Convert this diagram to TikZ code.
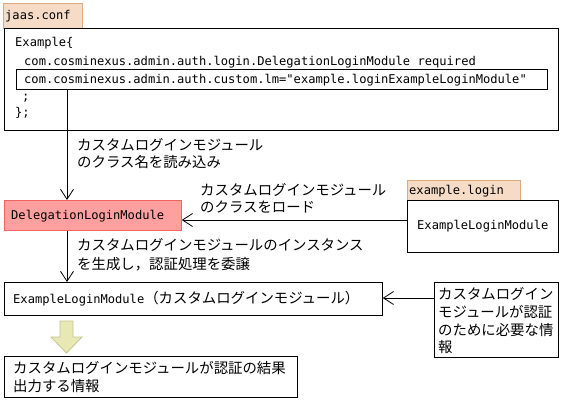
\documentclass[tikz,border=0pt]{standalone}
\usepackage{fontspec}
\setmainfont{DejaVu Sans Mono}
\newfontfamily\jp{Noto Sans CJK JP}
\newfontfamily\lat{DejaVu Sans Mono}
\usetikzlibrary{arrows.meta}
\definecolor{tabfill}{HTML}{F6DCC6}
\definecolor{tabline}{HTML}{DDAA80}
\definecolor{delfill}{HTML}{FFA0A0}
\definecolor{delline}{HTML}{F06464}
\definecolor{yfill}{HTML}{E8E8B4}
\definecolor{yline}{HTML}{C4C48C}
\newcommand{\J}[1]{{\jp\fontsize{14.4}{18}\selectfont #1}}
\newcommand{\Lt}[1]{{\lat\fontsize{12.1}{18}\selectfont #1}}
\tikzset{
  box/.style={draw=black, line width=0.8pt, inner sep=0pt, anchor=north west, fill=white},
  tabbox/.style={draw=tabline, fill=tabfill, line width=0.8pt, inner sep=0pt, anchor=north west},
  delbox/.style={draw=delline, fill=delfill, line width=0.8pt, inner sep=0pt, anchor=north west},
  txt/.style={anchor=base west, inner sep=0pt},
  arr/.style={line width=0.8pt, -{Straight Barb[length=10pt, width=13pt, line width=0.8pt]}},
  conn/.style={line width=0.8pt}
}
\begin{document}
\begin{tikzpicture}[x=1pt,y=-1pt]
\useasboundingbox (0,0) rectangle (562,401);
% jaas.conf
\node[tabbox, minimum width=79pt, minimum height=25pt] (jtab) at (3,3) {};
\node[txt] (jtabt) at (5,20) {\Lt{jaas.conf}};
\node[box, minimum width=554pt, minimum height=102pt] (main) at (4,28) {};
\node[txt] (l1) at (15,47) {\Lt{Example\{}};
\node[txt] (l2) at (24,66) {\Lt{com.cosminexus.admin.auth.login.DelegationLoginModule required}};
\node[box, minimum width=531pt, minimum height=20pt] (inner) at (16,69) {};
\node[txt] (l3) at (24,84) {\Lt{com.cosminexus.admin.auth.custom.lm="example.loginExampleLoginModule"}};
\node[txt] (l4) at (22,101) {\Lt{;}};
\node[txt] (l5) at (15,117) {\Lt{\};}};
\coordinate (xa) at (67,0);
% Delegation
\node[delbox, minimum width=177pt, minimum height=30pt] (delg) at (4,200) {};
\node[txt] (delgt) at (11,219.5) {\Lt{DelegationLoginModule}};
\draw[arr] (inner.south -| xa) -- (delg.north -| xa);
\node[txt] (lab1a) at (77,150) {\J{カスタムログインモジュール}};
\node[txt] (lab1b) at (77,167) {\J{のクラス名を読み込み}};
% example.login
\node[tabbox, minimum width=113pt, minimum height=20pt] (etab) at (407,180) {};
\node[txt] (etabt) at (409,194.5) {\Lt{example.login}};
\node[box, minimum width=151pt, minimum height=52pt] (exbox) at (407,200) {};
\node[txt] (exboxt) at (417,229.5) {\Lt{ExampleLoginModule}};
\coordinate (ya) at (0,220);
\draw[arr] (exbox.west |- ya) -- (delg.east |- ya);
\node[txt] (lab2a) at (200,195) {\J{カスタムログインモジュール}};
\node[txt] (lab2b) at (200,212) {\J{のクラスをロード}};
% custom module
\node[box, minimum width=378pt, minimum height=33pt] (cust) at (4,282) {};
\node[txt] (custt) at (13,303) {\Lt{ExampleLoginModule}\J{（カスタムログインモジュール）}};
\draw[arr] (delg.south -| xa) -- (cust.north -| xa);
\node[txt] (lab3a) at (77,250) {\J{カスタムログインモジュールのインスタンス}};
\node[txt] (lab3b) at (77,269) {\J{を生成し，認証処理を委譲}};
% right box
\node[box, minimum width=124pt, minimum height=75pt] (rbox) at (434,282) {};
\node[txt] (r1) at (438,299) {\J{カスタムログイン}};
\node[txt] (r2) at (438,317) {\J{モジュールが認証}};
\node[txt] (r3) at (438,335) {\J{のために必要な情}};
\node[txt] (r4) at (438,352) {\J{報}};
\coordinate (yb) at (0,298);
\draw[arr] (rbox.west |- yb) -- (cust.east |- yb);
% yellow arrow
\draw[fill=yfill, draw=yline, line width=0.8pt, line join=miter]
  (60,321) -- (73,321) -- (73,337) -- (82,337) -- (66.5,353) -- (51,337) -- (60,337) -- cycle;
% bottom box
\node[box, minimum width=293pt, minimum height=41pt] (bbox) at (4,356) {};
\node[txt] (b1) at (13,373) {\J{カスタムログインモジュールが認証の結果}};
\node[txt] (b2) at (13,391) {\J{出力する情報}};
\end{tikzpicture}
\end{document}
